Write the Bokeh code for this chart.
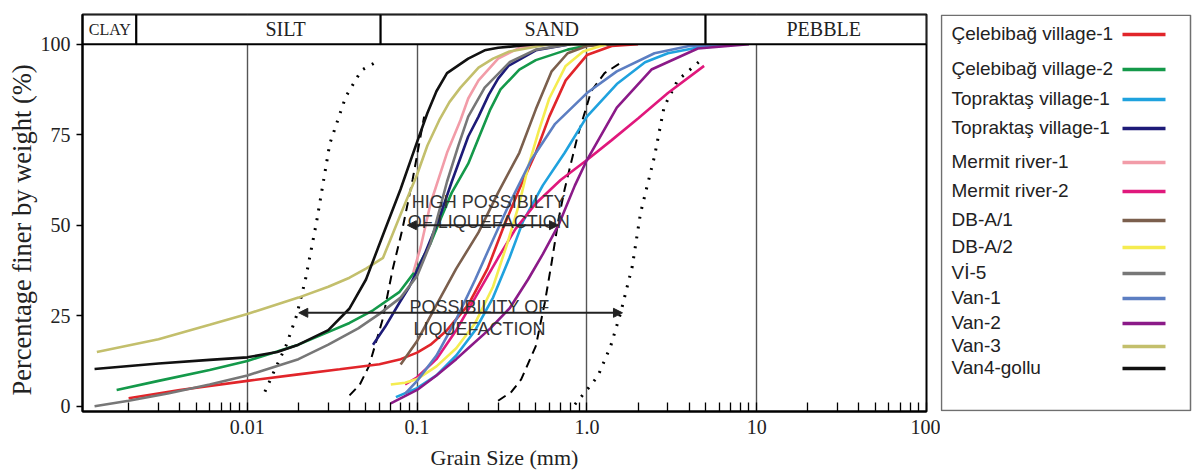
from bokeh.plotting import figure
from bokeh.models import Range1d, FixedTicker, Title, Arrow, NormalHead
from bokeh.layouts import row
from bokeh.core.properties import value
from bokeh.embed import file_html
from bokeh.resources import INLINE

# ---------------- data (grain size mm, percent finer) ----------------
cel1_x = [0.002, 0.004, 0.01, 0.02, 0.035, 0.06, 0.08, 0.1, 0.12, 0.15, 0.2, 0.26, 0.32, 0.4, 0.5, 0.6, 0.75, 1.0, 1.4, 2.0]
cel1_y = [2.2, 4.5, 7, 8.8, 10.2, 11.6, 13, 14.8, 17, 21, 28, 38, 49, 60, 70, 80, 90, 97, 99.5, 100]

cel2_x = [0.0017, 0.003, 0.006, 0.01, 0.02, 0.0267, 0.04, 0.055, 0.0785, 0.1, 0.12, 0.134, 0.16, 0.2, 0.23, 0.27, 0.31, 0.4, 0.5, 0.77, 1.1]
cel2_y = [4.5, 7, 10, 12.5, 17, 19.5, 23, 26.5, 31.5, 38, 45, 50.5, 59, 67, 74, 82, 87.5, 93, 95.6, 98.5, 100]

top1_x = [0.075, 0.1, 0.13, 0.17, 0.22, 0.28, 0.35, 0.42, 0.55, 0.74, 1.0, 1.5, 2.2, 3.0, 5.0, 8.0]
top1_y = [2.5, 5, 8.5, 14, 21, 30, 41, 51, 61, 70, 80, 89, 95, 97.5, 99.5, 100]

top2_x = [0.055, 0.065, 0.0785, 0.09, 0.1, 0.112, 0.134, 0.16, 0.2, 0.23, 0.264, 0.3, 0.345, 0.5, 0.8]
top2_y = [17, 22, 28.5, 33, 37.5, 42.5, 51.5, 62, 74.5, 80, 86, 90.5, 94, 98.3, 100]

mer1_x = [0.095, 0.105, 0.12, 0.15, 0.18, 0.2, 0.23, 0.3, 0.4, 0.6]
mer1_y = [37, 44, 56, 70, 79, 85, 90, 96, 99, 100]

mer2_x = [0.085, 0.1, 0.13, 0.17, 0.22, 0.3, 0.38, 0.5, 0.7, 1.0, 1.4, 2.0, 3.0, 4.9]
mer2_y = [6, 8, 13, 21, 30, 41, 49, 56, 62.5, 68, 73.5, 79.5, 86.5, 94]

dba1_x = [0.08, 0.1, 0.13, 0.17, 0.23, 0.3, 0.4, 0.5, 0.62, 0.77, 1.0, 1.5]
dba1_y = [11.5, 18, 28, 38, 48, 59, 70, 82, 92.5, 97.5, 99.5, 100]

dba2_x = [0.07, 0.085, 0.1, 0.13, 0.17, 0.22, 0.28, 0.34, 0.4, 0.45, 0.52, 0.6, 0.75, 0.95, 1.3]
dba2_y = [6, 6.5, 7.5, 11, 16, 23, 33, 45, 56, 66, 76, 85, 94, 98, 100]

vi5_x = [0.00126, 0.002, 0.0034, 0.006, 0.01, 0.02, 0.03, 0.045, 0.06, 0.08, 0.1, 0.12, 0.15, 0.175, 0.2, 0.25, 0.35, 0.5, 0.8]
vi5_y = [0, 1.5, 3.5, 6, 8.5, 13, 17, 21.5, 25.5, 30, 36, 45, 62, 72, 80, 88, 95, 98.5, 100]

van1_x = [0.085, 0.1, 0.13, 0.17, 0.22, 0.28, 0.35, 0.47, 0.65, 1.0, 1.5, 2.5, 4.0, 7.0]
van1_y = [3.5, 7, 14, 24, 35, 46, 56, 68, 78, 86.5, 92.5, 97.5, 99.5, 100]

van2_x = [0.07, 0.1, 0.13, 0.17, 0.2, 0.27, 0.35, 0.45, 0.55, 0.68, 0.85, 1.0, 1.5, 2.4, 4.5, 9.0]
van2_y = [0.8, 4.5, 8.5, 13, 16, 21.5, 27, 35, 42, 50, 61, 68, 82.5, 93, 98.8, 100]

van3_x = [0.0013, 0.003, 0.006, 0.01, 0.02, 0.03, 0.04, 0.05, 0.063, 0.08, 0.1, 0.115, 0.135, 0.155, 0.18, 0.23, 0.28, 0.35, 0.6, 1.0]
van3_y = [15, 18.5, 22.5, 25.5, 30, 33, 35.5, 38, 41, 53, 64, 72, 79, 84, 88, 93.5, 96, 98, 100, 100]

van4_x = [0.00126, 0.003, 0.006, 0.01, 0.015, 0.02, 0.03, 0.04, 0.05, 0.065, 0.08, 0.1, 0.115, 0.13, 0.15, 0.2, 0.25, 0.3, 0.5, 1.0]
van4_y = [10.3, 11.8, 12.8, 13.5, 15, 17, 21, 27, 35, 49, 60, 73, 81, 87, 92, 96, 98.3, 99, 100, 100]

# liquefaction boundary curves
dot_left_x = [0.0127, 0.0145, 0.017, 0.0195, 0.022, 0.0256, 0.0306, 0.038, 0.047, 0.057]
dot_left_y = [4, 10, 17, 25, 35, 51, 72.5, 85.5, 92.8, 95]
dash_left_x = [0.04, 0.046, 0.052, 0.0627, 0.0717, 0.082, 0.094, 0.11]
dash_left_y = [3, 6, 11, 24, 37.7, 49, 62.5, 80]
dash_right_x = [0.3, 0.36, 0.41, 0.5, 0.565, 0.62, 0.68, 0.74, 0.88, 1.06, 1.27, 1.6]
dash_right_y = [1.5, 4, 7.4, 16.6, 28.6, 39.7, 51.5, 60, 74.5, 87, 92, 95]
dot_right_x = [0.85, 1.0, 1.16, 1.38, 1.58, 1.85, 2.07, 2.5, 2.85, 3.42, 4.7]
dot_right_y = [0.5, 4.5, 8.3, 16.6, 25.8, 38.6, 53.4, 69, 82.7, 90, 95.6]

# arrows (zone limits)
high_arrow_x = [0.0876, 0.68]
high_arrow_y = 50
poss_arrow_x = [0.0201, 1.62]
poss_arrow_y = 25.8

# soil classification band
band_names = ["CLAY", "SILT", "SAND", "PEBBLE"]
band_edges = [0.00107, 0.00222, 0.061, 5.0, 100]

# axis ticks
x_ticks = [0.01, 0.1, 1, 10, 100]
x_tick_labels = ["0.01", "0.1", "1.0", "10", "100"]
y_ticks = [0, 25, 50, 75, 100]

series = [
    ("Çelebibağ village-1", cel1_x, cel1_y, "#e1252a"),
    ("Çelebibağ village-2", cel2_x, cel2_y, "#14994a"),
    ("Topraktaş village-1", top1_x, top1_y, "#1fa2de"),
    ("Topraktaş village-1", top2_x, top2_y, "#1d1b78"),
    ("Mermit river-1", mer1_x, mer1_y, "#f29ca8"),
    ("Mermit river-2", mer2_x, mer2_y, "#e0187c"),
    ("DB-A/1", dba1_x, dba1_y, "#7b5f4d"),
    ("DB-A/2", dba2_x, dba2_y, "#f5ec50"),
    ("Vİ-5", vi5_x, vi5_y, "#777777"),
    ("Van-1", van1_x, van1_y, "#5c7ec2"),
    ("Van-2", van2_x, van2_y, "#8b1a88"),
    ("Van-3", van3_x, van3_y, "#c3bf6c"),
    ("Van4-gollu", van4_x, van4_y, "#111111"),
]

# ---------------- layout constants ----------------
X_MIN, X_MAX = band_edges[0], band_edges[-1]
Y_MIN, Y_MAX = -1.46, 108.2
BAND_BOTTOM = 100
band_label_x = [0.00155, 0.0168, 0.62, 24.8]
band_label_size = ["16px", "20px", "20px", "20px"]
LEGEND_ROW_Y = [34, 69, 99, 128, 162, 191, 220, 247, 273, 298, 323, 346, 368]

SERIF = "Liberation Serif"
SANS = "Liberation Sans"

p = figure(width=940, height=472, x_axis_type="log",
           x_range=Range1d(X_MIN, X_MAX), y_range=Range1d(Y_MIN, Y_MAX),
           output_backend="svg", toolbar_location=None,
           min_border_left=82, min_border_right=14,
           min_border_top=14, min_border_bottom=61)
p.background_fill_color = "white"
p.border_fill_color = "white"
p.outline_line_color = "black"
p.outline_line_width = 2

# grid: only vertical decade lines
p.ygrid.visible = False
p.xgrid.ticker = FixedTicker(ticks=x_ticks[:-1])
p.xgrid.grid_line_color = "#555555"
p.xgrid.grid_line_width = 1.4

# x axis
minor = [k * 10.0 ** e for e in range(-3, 2) for k in range(2, 10) if X_MIN < k * 10.0 ** e < X_MAX]
p.xaxis.ticker = FixedTicker(ticks=x_ticks, minor_ticks=minor)
p.xaxis.major_label_overrides = {t: s for t, s in zip(x_ticks, x_tick_labels)}
p.xaxis.axis_line_width = 2
p.xaxis.axis_line_color = "black"
p.xaxis.major_tick_in = 9
p.xaxis.major_tick_out = 0
p.xaxis.minor_tick_in = 9
p.xaxis.minor_tick_out = 0
p.xaxis.major_tick_line_width = 1.3
p.xaxis.minor_tick_line_width = 1.3
p.xaxis.major_label_text_font = SERIF
p.xaxis.major_label_text_font_size = "20px"
p.xaxis.major_label_text_color = "#222222"
p.xaxis.major_label_standoff = 8
p.xaxis.axis_label = "Grain Size (mm)"
p.xaxis.axis_label_text_font = SERIF
p.xaxis.axis_label_text_font_size = "22px"
p.xaxis.axis_label_text_font_style = "normal"
p.xaxis.axis_label_text_color = "#222222"
p.xaxis.axis_label_standoff = 8

# y axis
p.yaxis.ticker = FixedTicker(ticks=y_ticks)
p.yaxis.axis_line_width = 2
p.yaxis.axis_line_color = "black"
p.yaxis.major_tick_in = 0
p.yaxis.major_tick_out = 6
p.yaxis.major_tick_line_width = 1.3
p.yaxis.minor_tick_line_color = None
p.yaxis.major_label_text_font = SERIF
p.yaxis.major_label_text_font_size = "20px"
p.yaxis.major_label_text_color = "#222222"
p.yaxis.major_label_standoff = 6

p.add_layout(Title(text="Percentage finer by weight (%)", align="left", offset=16,
                   text_font=SERIF, text_font_size="26.5px", text_font_style="normal",
                   text_color="#222222", standoff=2), "left")

# boundary curves
p.line(dot_left_x, dot_left_y, line_color="black", line_width=3, line_dash="2 8")
p.line(dot_right_x, dot_right_y, line_color="black", line_width=3, line_dash="2 8")
p.line(dash_left_x, dash_left_y, line_color="black", line_width=2, line_dash="9 6")
p.line(dash_right_x, dash_right_y, line_color="black", line_width=2, line_dash="9 6")

# sample curves
for name, xs, ys, col in series:
    p.line(xs, ys, line_color=col, line_width=2.6)

# classification band
p.quad(left=band_edges[:-1], right=band_edges[1:], bottom=BAND_BOTTOM, top=Y_MAX,
       fill_color="white", line_color="black", line_width=2)
p.text(x=band_label_x, y=[(BAND_BOTTOM + Y_MAX) / 2] * 4, text=band_names,
       text_font=value(SERIF), text_font_size=band_label_size,
       text_color="#222222", text_align="center", text_baseline="middle")

# liquefaction zone arrows and notes
for xs, yv in [(high_arrow_x, high_arrow_y), (poss_arrow_x, poss_arrow_y)]:
    p.add_layout(Arrow(start=NormalHead(size=9, fill_color="#222222", line_color="#222222"),
                       end=NormalHead(size=9, fill_color="#222222", line_color="#222222"),
                       x_start=xs[0], y_start=yv, x_end=xs[1], y_end=yv,
                       line_color="#222222", line_width=2))

note_x = [0.264, 0.264, 0.233, 0.233]
note_y = [56.5, 50.8, 27.5, 21.4]
note_text = ["HIGH POSSIBILTY", "OF LIQUEFACTION", "POSSIBILITY OF", "LIQUEFACTION"]
p.text(x=note_x, y=note_y, text=note_text, text_font=value(SANS),
       text_font_size=value("18px"), text_color="#333333",
       text_align="center", text_baseline="alphabetic")

# ---------------- legend panel ----------------
# the row aligns this panel's frame with the chart frame (window y 14..411)
lg = figure(width=255, height=472, x_range=Range1d(0, 255), y_range=Range1d(411, 14),
            output_backend="svg", toolbar_location=None,
            min_border_left=0, min_border_right=0, min_border_top=14, min_border_bottom=61,
            x_axis_location=None, y_axis_location=None)
lg.grid.visible = False
lg.outline_line_color = None
lg.background_fill_color = "white"
lg.quad(left=[1], right=[250], top=[14.8], bottom=[410], fill_color=None,
        line_color="#6f6f6f", line_width=1.5)
n = len(series)
lg.text(x=[11] * n, y=[v - 1 for v in LEGEND_ROW_Y], text=[s[0] for s in series],
        text_font=value(SANS), text_font_size=value("19px"), text_color="#222222",
        text_align="left", text_baseline="middle")
lg.segment(x0=[182] * n, y0=LEGEND_ROW_Y, x1=[225] * n, y1=LEGEND_ROW_Y,
           line_color=[s[3] for s in series], line_width=3.5)

layout = row(p, lg)
open("out.html", "w").write(file_html(layout, INLINE))
